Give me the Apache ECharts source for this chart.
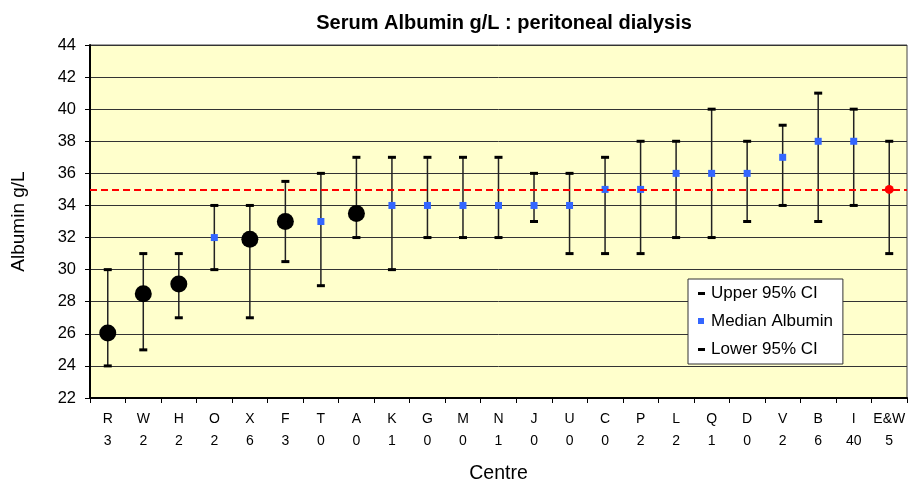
<!DOCTYPE html>
<html>
<head>
<meta charset="utf-8">
<script src="https://cdn.jsdelivr.net/npm/echarts@6/dist/echarts.min.js"></script>
<style>
html,body{margin:0;padding:0;background:#fff;}
#chart{width:908px;height:484px;}
</style>
</head>
<body>
<div id="chart"></div>
<script>
// ---- data ----
const centres = ['R','W','H','O','X','F','T','A','K','G','M','N','J','U','C','P','L','Q','D','V','B','I','E&W'];
const counts  = ['3','2','2','2','6','3','0','0','1','0','0','1','0','0','0','2','2','1','0','2','6','40','5'];
const median  = [26.05, 28.5, 29.1, 32, 31.9, 33, 33, 33.5, 34, 34, 34, 34, 34, 34, 35, 35, 36, 36, 36, 37, 38, 38, 35];
const upperCI = [30, 31, 31, 34, 34, 35.5, 36, 37, 37, 37, 37, 37, 36, 36, 37, 38, 38, 40, 38, 39, 41, 40, 38];
const lowerCI = [24, 25, 27, 30, 27, 30.5, 29, 32, 30, 32, 32, 32, 33, 31, 31, 31, 32, 32, 33, 34, 33, 34, 31];
const lowCentres = ['R','W','H','X','F','A'];
const nationalCentre = 'E&W';
const standard = 35;
const yTicks = [22, 24, 26, 28, 30, 32, 34, 36, 38, 40, 42, 44];

// ---- chart ----
const FONT = '"Liberation Sans", Arial, sans-serif';
const chart = echarts.init(document.getElementById('chart'), null, {renderer: 'canvas'});
const categories = centres.map((c, i) => c + '\n' + counts[i]);

const medianData = median.map((v, i) => {
  if (lowCentres.includes(centres[i])) {
    return {value: v, symbol: 'circle', symbolSize: 17, itemStyle: {color: '#000', opacity: 1}};
  }
  if (centres[i] === nationalCentre) {
    return {value: v, symbol: 'circle', symbolSize: 9, itemStyle: {color: '#ff0000', opacity: 1}};
  }
  return v;
});

const dashIcon = 'path://M0,0 M10,14 M2,6 L9,6 L9,9 L2,9 Z';
const squareIcon = 'path://M0,0 M10,14 M2,4 L8,4 L8,10 L2,10 Z';

chart.setOption({
  animation: false,
  textStyle: {fontFamily: FONT},
  title: {
    text: 'Serum Albumin g/L : peritoneal dialysis',
    left: 499, top: 8, textAlign: 'center',
    textStyle: {fontFamily: FONT, fontSize: 20, fontWeight: 'bold', color: '#000'}
  },
  grid: {
    left: 90, right: 1, top: 45, bottom: 86,
    containLabel: false,
    outerBoundsMode: 'none',
    show: true, backgroundColor: '#ffffcc', borderColor: '#444', borderWidth: 1
  },
  legend: {
    orient: 'vertical',
    left: 688, top: 279,
    padding: [5, 10, 6, 8],
    backgroundColor: '#fff',
    borderColor: '#333', borderWidth: 1,
    itemWidth: 10, itemHeight: 14, itemGap: 10,
    textStyle: {fontFamily: FONT, fontSize: 17, color: '#000', lineHeight: 18},
    data: [
      {name: 'Upper 95% CI', icon: dashIcon},
      {name: 'Median Albumin', icon: squareIcon},
      {name: 'Lower 95% CI', icon: dashIcon}
    ]
  },
  xAxis: {
    type: 'category',
    data: categories,
    name: 'Centre',
    nameLocation: 'middle',
    nameGap: 66,
    nameTextStyle: {fontFamily: FONT, fontSize: 19.5, color: '#000'},
    axisLine: {lineStyle: {color: '#000', width: 2}},
    axisTick: {show: true, length: 5, lineStyle: {color: '#000', width: 1}},
    axisLabel: {interval: 0, fontFamily: FONT, fontSize: 14, color: '#000', lineHeight: 22, margin: 10},
    splitLine: {show: false}
  },
  yAxis: {
    type: 'value',
    min: yTicks[0], max: yTicks[yTicks.length - 1], interval: 2,
    name: 'Albumin g/L',
    nameLocation: 'middle',
    nameGap: 62,
    nameTextStyle: {fontFamily: FONT, fontSize: 19, color: '#000'},
    axisLine: {show: true, lineStyle: {color: '#000', width: 2}},
    axisTick: {show: true, length: 5, lineStyle: {color: '#000', width: 1}},
    axisLabel: {fontFamily: FONT, fontSize: 16.5, color: '#000', margin: 14},
    splitLine: {show: true, lineStyle: {color: '#333', width: 1}}
  },
  series: [
    {
      type: 'custom',
      name: 'CI range',
      data: centres.map((c, i) => [i, lowerCI[i], upperCI[i]]),
      encode: {x: 0, y: [1, 2]},
      renderItem: function (params, api) {
        const lo = api.coord([api.value(0), api.value(1)]);
        const hi = api.coord([api.value(0), api.value(2)]);
        return {
          type: 'line',
          shape: {x1: lo[0], y1: lo[1], x2: hi[0], y2: hi[1]},
          style: {stroke: '#222', lineWidth: 1.5}
        };
      },
      silent: true,
      markLine: {
        silent: true,
        symbol: 'none',
        label: {show: false},
        lineStyle: {color: '#ff0000', type: [7, 4], width: 2},
        data: [{yAxis: standard}]
      }
    },
    {
      type: 'scatter',
      name: 'Upper 95% CI',
      data: upperCI,
      symbol: 'rect', symbolSize: [8, 3],
      itemStyle: {color: '#000', opacity: 1},
      silent: true
    },
    {
      type: 'scatter',
      name: 'Lower 95% CI',
      data: lowerCI,
      symbol: 'rect', symbolSize: [8, 3],
      itemStyle: {color: '#000', opacity: 1},
      silent: true
    },
    {
      type: 'scatter',
      name: 'Median Albumin',
      data: medianData,
      symbol: 'rect', symbolSize: 7,
      itemStyle: {color: '#3366ff', opacity: 1},
      silent: true
    }
  ]
});
</script>
</body>
</html>
